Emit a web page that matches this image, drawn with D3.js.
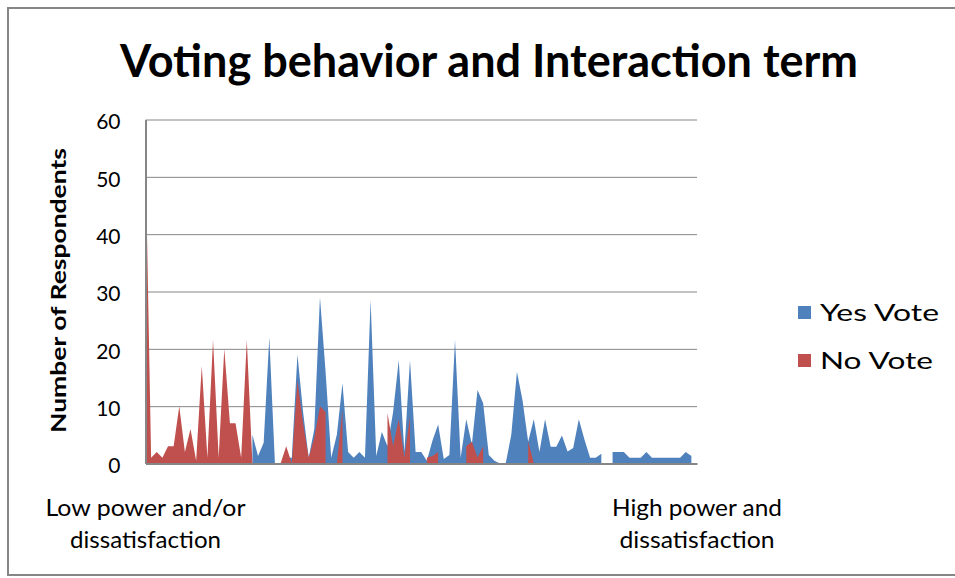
<!DOCTYPE html>
<html>
<head>
<meta charset="utf-8">
<script src="https://cdn.jsdelivr.net/npm/d3@7/dist/d3.min.js"></script>
<style>
  html, body { margin: 0; padding: 0; background: #fff; }
  svg { display: block; font-family: Lato, "Open Sans", sans-serif; }
</style>
</head>
<body>
<svg id="chart" width="955" height="578"></svg>
<script>
// ---------- data ----------
const title = "Voting behavior and Interaction term";
const yAxisTitle = "Number of Respondents";
const seriesNames = ["Yes Vote", "No Vote"];
const yTicks = [0, 10, 20, 30, 40, 50, 60];
const firstCategoryLabel = ["Low power and/or", "dissatisfaction"];
const lastCategoryLabel = ["High power and", "dissatisfaction"];

// Yes Vote (blue), one value per category, null = no value
const yesVote = [
  null, null, null, null, null, null, null, null, null, null,
  null, null, null, null, null, null, null, null, null, 5,
  1.3, 3.6, 22, 0, 0, 1, 1, 19, 9, 1,
  6, 29, 16, 1, 5, 14, 2, 1, 2, 1,
  28.5, 1.3, 5.5, 3, 9, 18, 2, 18, 2, 2,
  0.5, 4, 6.8, 0.8, 1.5, 21.6, 1, 7.7, 3.3, 12.8,
  10.5, 1.5, 0.5, 0, 0, 5, 16, 11, 3.8, 7.7,
  2, 7.7, 2.9, 2.9, 4.9, 2.1, 2.7, 7.7, 4.2, 1,
  1, 1.7, null, 2, 2, 2, 1, 1, 1, 2,
  1, 1, 1, 1, 1, 1, 2, 1.3, null
];

// No Vote (red), drawn in front
const noVote = [
  54, 1, 2, 1, 3, 3, 10, 2, 6, 0.5,
  17, 1, 21.6, 1, 20, 7, 7, 1, 21.6, 0,
  0, 0, 0, 0, 0, 3, 0, 14.5, 7, 1,
  4.5, 10, 9, null, 0, 9.4, null, null, null, null,
  null, null, null, 8.8, 3, 7.7, 1, 8.2, null, null,
  1, 1.3, 2, null, null, null, null, 3, 3.8, 1,
  3, null, null, null, null, null, null, null, 3.9, 0,
  null, null, null, null, null, null, null, null, null, null,
  null, null, null, null, null, null, null, null, null, null,
  null, null, null, null, null, null, null, null, null
];

const categories = d3.range(yesVote.length);

// ---------- drawing ----------
const svg = d3.select("#chart");
const colors = { yes: "#4F81BD", no: "#C0504D" };
const gridColor = "#868686";

const plot = { left: 145.5, right: 697, top: 119.5, bottom: 463.5 };

const x = d3.scalePoint().domain(categories).range([plot.left, plot.right]);
const y = d3.scaleLinear().domain([0, 60]).range([plot.bottom, plot.top]);

// outer chart border
svg.append("rect")
  .attr("x", 8).attr("y", 8).attr("width", 1000).attr("height", 567)
  .attr("fill", "none").attr("stroke", gridColor).attr("stroke-width", 2);

// title
svg.append("text")
  .attr("x", 120).attr("y", 77)
  .attr("font-size", 46).attr("font-weight", "bold")
  .attr("textLength", 738).attr("lengthAdjust", "spacingAndGlyphs")
  .attr("fill", "#000")
  .text(title);

// gridlines
svg.append("g")
  .attr("transform", `translate(${plot.left},0)`)
  .call(d3.axisLeft(y).tickValues(yTicks.filter(t => t > 0)).tickSize(-(plot.right - plot.left)).tickFormat(""))
  .call(g => g.select(".domain").remove())
  .call(g => g.selectAll("line").attr("stroke", gridColor).attr("stroke-width", 1));

// areas
const areaGen = d3.area()
  .defined(d => d.v !== null)
  .x(d => x(d.i))
  .y0(y(0))
  .y1(d => y(d.v));

svg.append("path")
  .datum(categories.map(i => ({ i, v: yesVote[i] })))
  .attr("fill", colors.yes)
  .attr("d", areaGen);

svg.append("path")
  .datum(categories.map(i => ({ i, v: noVote[i] })))
  .attr("fill", colors.no)
  .attr("d", areaGen);

// y axis
svg.append("g")
  .attr("transform", `translate(${plot.left},0)`)
  .call(d3.axisLeft(y).tickValues(yTicks).tickSize(0).tickPadding(25).tickFormat(d3.format("d")))
  .call(g => g.select(".domain").attr("stroke", gridColor).attr("stroke-width", 2))
  .call(g => g.selectAll("text")
      .attr("font-family", "Lato, sans-serif")
      .attr("font-size", 21).attr("fill", "#000").attr("dy", "0.45em"));

// x axis
const xAxis = svg.append("g")
  .attr("transform", `translate(0,${plot.bottom})`)
  .call(d3.axisBottom(x).tickValues([]).tickSize(0))
  .call(g => g.select(".domain").attr("stroke", gridColor).attr("stroke-width", 2));

const catLabels = [
  { i: categories[0], lines: firstCategoryLabel, widths: [200, 151] },
  { i: categories[categories.length - 1], lines: lastCategoryLabel, widths: [170, 155] }
];
catLabels.forEach(lab => {
  lab.lines.forEach((ln, k) => {
    svg.append("text")
      .attr("x", x(lab.i) - lab.widths[k] / 2)
      .attr("y", 516 + k * 32)
      .attr("font-size", 23)
      .attr("textLength", lab.widths[k]).attr("lengthAdjust", "spacingAndGlyphs")
      .attr("fill", "#000")
      .text(ln);
  });
});

// y axis title
svg.append("text")
  .attr("transform", "translate(66,290.5) rotate(-90)")
  .attr("x", -142.5)
  .attr("font-size", 20).attr("font-weight", "bold")
  .attr("textLength", 285).attr("lengthAdjust", "spacingAndGlyphs")
  .attr("fill", "#000")
  .text(yAxisTitle);

// legend
const legend = svg.append("g");
[{ name: seriesNames[0], c: colors.yes, y: 306, w: 119 },
 { name: seriesNames[1], c: colors.no, y: 354, w: 113 }].forEach(d => {
  legend.append("rect").attr("x", 798).attr("y", d.y).attr("width", 13).attr("height", 13).attr("fill", d.c);
  legend.append("text")
    .attr("x", 820).attr("y", d.y + 15)
    .attr("font-size", 23)
    .attr("textLength", d.w).attr("lengthAdjust", "spacingAndGlyphs")
    .attr("fill", "#000")
    .text(d.name);
});
</script>
</body>
</html>
